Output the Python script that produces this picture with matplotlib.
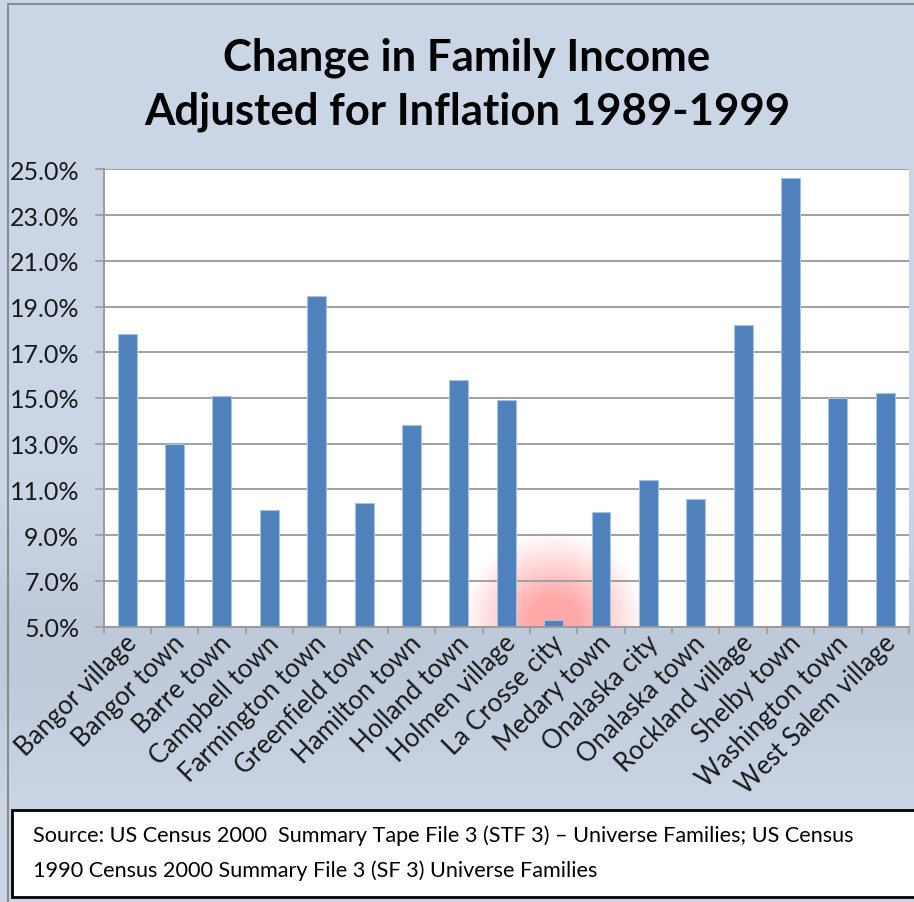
import numpy as np
import matplotlib
matplotlib.use("Agg")
import matplotlib.pyplot as plt
import matplotlib.transforms as mtrans
from matplotlib.patches import Rectangle
from matplotlib.ticker import FuncFormatter, FixedLocator
from matplotlib import font_manager as fm

# ---------------- data ----------------
places = ["Bangor village", "Bangor town", "Barre town", "Campbell town",
          "Farmington town", "Greenfield town", "Hamilton town", "Holland town",
          "Holmen village", "La Crosse city", "Medary town", "Onalaska city",
          "Onalaska town", "Rockland village", "Shelby town", "Washington town",
          "West Salem village"]
income_change = [17.8, 13.0, 15.1, 10.1, 19.45, 10.4, 13.8, 15.8, 14.9, 5.3,
                 10.0, 11.4, 10.6, 18.2, 24.6, 15.0, 15.2]
y_ticks = [5, 7, 9, 11, 13, 15, 17, 19, 21, 23, 25]
highlight = "La Crosse city"
title_lines = ["Change in Family Income", "Adjusted for Inflation 1989-1999"]
source_lines = ["Source: US Census 2000  Summary Tape File 3 (STF 3) \u2013 Universe Families; US Census",
                "1990 Census 2000 Summary File 3 (SF 3) Universe Families"]

names = {f.name for f in fm.fontManager.ttflist}
FONT = "Liberation Sans Narrow" if "Liberation Sans Narrow" in names else "Lato"
plt.rcParams['font.family'] = [FONT, 'DejaVu Sans']

W, H = 914, 903
fig = plt.figure(figsize=(W / 100, H / 100), dpi=100)

# background gradient
bg = fig.add_axes([0, 0, 1, 1], zorder=-10)
g = np.linspace(0, 1, 300)
top = np.array([203, 214, 230]) / 255
mid = np.array([190, 201, 217]) / 255
w = np.exp(-((g - 0.72) / 0.12) ** 2)
cols = top[None, :] * (1 - w[:, None]) + mid[None, :] * w[:, None]
bg.imshow(cols[:, None, :], aspect='auto', extent=[0, 1, 0, 1])
bg.set_xlim(0, 1); bg.set_ylim(0, 1); bg.axis('off')

# outer border
fig.patches.append(Rectangle((8 / W, -0.01), 1.2, 1 - 5 / H + 0.01, transform=fig.transFigure,
                             fill=False, edgecolor='#8C8C8C', linewidth=1.5, zorder=-5))

# plot area
L, R, T, B = 103.5, 909, 170.3, 627.7
ax = fig.add_axes([L / W, 1 - B / H, (R - L) / W, (B - T) / H])
ax.set_facecolor('white')
x = np.arange(len(places))
ax.set_xlim(-0.5, len(places) - 0.5)
ax.set_ylim(y_ticks[0], y_ticks[-1])

# red glow behind La Crosse city
hi = places.index(highlight)
gx = np.linspace(hi - 2.3, hi + 2.3, 240)
gy = np.linspace(5, 10, 240)
GX, GY = np.meshgrid(gx, gy)
d = np.sqrt(((GX - hi) / 2.0) ** 2 + ((GY - 5.2) / 4.0) ** 2)
alpha = np.clip(1 - d, 0, 1) ** 1.1
alpha = np.clip(alpha * 1.35, 0, 0.95)
img = np.zeros((240, 240, 4))
img[..., 0] = 1.0; img[..., 1] = 0.64; img[..., 2] = 0.64; img[..., 3] = alpha
ax.imshow(img, extent=[gx[0], gx[-1], 5, 10], origin='lower', aspect='auto', zorder=0.5,
          interpolation='bilinear')

ax.bar(x, income_change, width=0.4, bottom=0, color='#4F81BD', edgecolor='#A9C2E0',
       linewidth=0.8, zorder=3)

ax.yaxis.set_major_locator(FixedLocator(y_ticks))
ax.yaxis.set_major_formatter(FuncFormatter(lambda v, p: f"{v:.1f}%"))
ax.grid(axis='y', color='#A0A0A0', linewidth=1.4, zorder=1)
for s in ['top', 'right']:
    ax.spines[s].set_visible(False)
ax.spines['left'].set_color('#9A9A9A'); ax.spines['left'].set_linewidth(1.4)
ax.spines['bottom'].set_color('#9A9A9A'); ax.spines['bottom'].set_linewidth(1.4)
ax.spines['left'].set_zorder(4); ax.spines['bottom'].set_zorder(4)
ax.tick_params(axis='y', length=6.5, width=1.2, color='#9A9A9A', pad=11,
               labelsize=18, labelcolor='#1A1A1A')
ax.set_xticks(np.arange(-0.5, len(places), 1.0))
ax.set_xticklabels([])
ax.tick_params(axis='x', length=5, width=1.2, color='#9A9A9A')

off = mtrans.ScaledTranslation(6 / 100, -12 / 100, fig.dpi_scale_trans)
for xi, name in zip(x, places):
    ax.text(xi, 5, name, rotation=45, rotation_mode='anchor', ha='right', va='center',
            fontsize=18.5, color='#1A1A1A', transform=ax.transData + off)

for yy, line in zip([58, 112], title_lines):
    fig.text(467 / W, 1 - yy / H, line, ha='center', va='center', fontsize=31.5,
             fontweight='bold', color='black')

# source box
fig.patches.append(Rectangle((12 / W, 1 - 898 / H), 1.2, (898 - 811) / H, transform=fig.transFigure,
                             facecolor='white', edgecolor='black', linewidth=2, zorder=5))
for yy, line in zip([836, 871], source_lines):
    fig.text(33 / W, 1 - yy / H, line, ha='left', va='center', fontsize=15.6, color='black', zorder=6)

fig.savefig("out.png", dpi=100)
